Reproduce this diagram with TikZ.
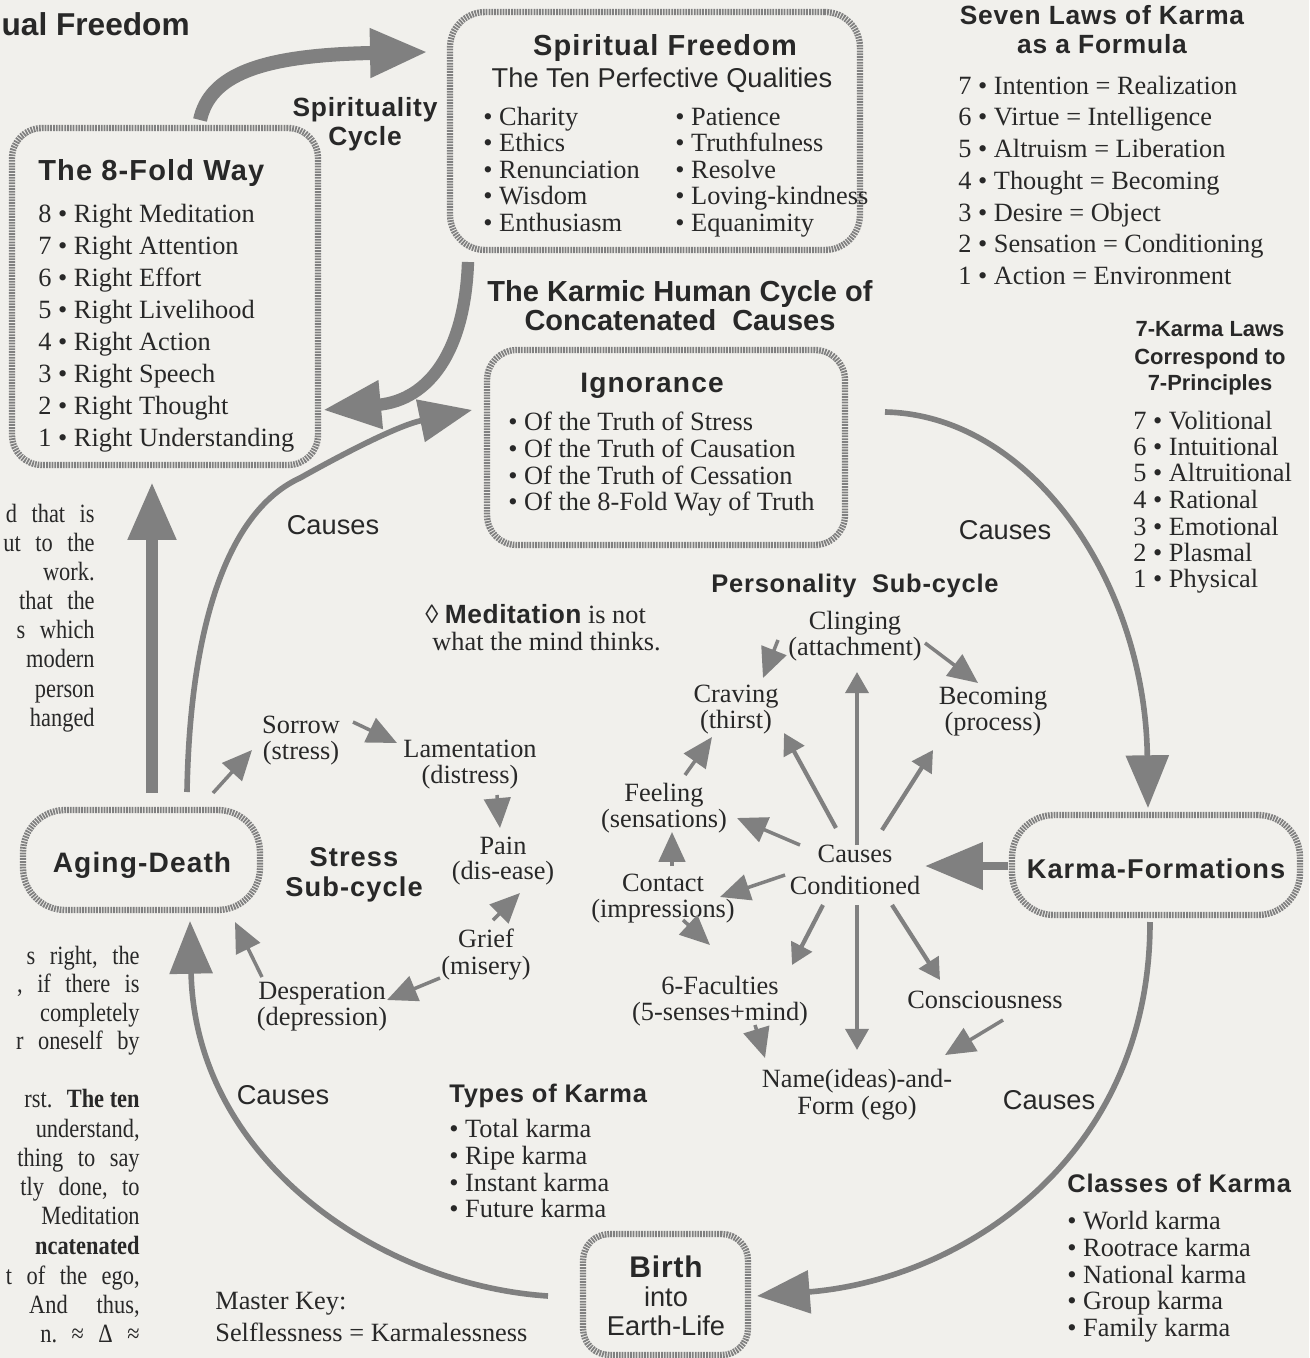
\documentclass[tikz,border=0pt]{standalone}
\usepackage{fontspec}
\setmainfont{Liberation Serif}
\setsansfont{Liberation Sans}
\newfontfamily\hd{Liberation Sans}[LetterSpace=3]
\newfontfamily\hdw{Liberation Sans}[LetterSpace=4]
\newfontfamily\colfont{Liberation Serif}[FakeStretch=0.85]
\usetikzlibrary{arrows.meta}
\definecolor{paper}{RGB}{241,240,236}
\definecolor{ink}{RGB}{40,40,40}
\definecolor{tone}{RGB}{128,128,128}
\newcommand{\ws}{\hspace{0.55em}}
\tikzset{
 tx/.style={font=\fontsize{15}{17}\selectfont, text=ink, inner sep=0pt, anchor=base},
 txl/.style={tx, anchor=base west},
 col/.style={font=\colfont\fontsize{15}{18}\selectfont, text=ink, inner sep=0pt, anchor=base east},
 hdg/.style={font=\hd\bfseries\fontsize{15}{18}\selectfont, text=ink, inner sep=0pt, anchor=base},
 hdgw/.style={font=\hdw\bfseries\fontsize{15.5}{18}\selectfont, text=ink, inner sep=0pt, anchor=base},
 hdgl/.style={hdg, anchor=base west},
 sns/.style={font=\sffamily\fontsize{15.5}{18}\selectfont, text=ink, inner sep=0pt, anchor=base},
 framebox/.style={draw=tone, line width=3.6pt, dash pattern=on 1pt off 0.6pt, rounded corners=#1, inner sep=0pt},
 framebox/.default=17pt,
 bandA/.style={draw=tone, line width=7pt, -{Triangle[length=33pt,width=26pt]}},
 bandB/.style={draw=tone, line width=3.2pt, -{Triangle[length=30pt,width=24pt]}},
 thinarr/.style={draw=tone, line width=2.4pt, -{Triangle[length=12pt,width=13pt]}},
 wedge/.style={draw=tone, line width=2pt, -{Triangle[length=17pt,width=15pt]}},
}
\begin{document}
\begin{tikzpicture}[x=0.02cm,y=-0.02cm]
\useasboundingbox (0,0) rectangle (1309,1358);
\fill[paper] (0,0) rectangle (1309,1358);

% ---------- boxes ----------
\node[framebox=17pt, minimum width=6.12cm, minimum height=6.74cm] (eight) at (165,296.5) {};
\node[framebox=20pt, minimum width=8.2cm, minimum height=4.76cm] (free) at (655,131) {};
\node[framebox=17pt, minimum width=7.16cm, minimum height=3.9cm] (ign) at (666,447.5) {};
\node[framebox=24pt, minimum width=4.74cm, minimum height=2cm] (aging) at (141.5,860) {};
\node[framebox=24pt, minimum width=5.76cm, minimum height=2cm] (karmaf) at (1156,865) {};
\node[framebox=15pt, minimum width=3.3cm, minimum height=2.42cm] (birth) at (665.5,1294.5) {};

% ---------- left column fragments ----------
\node[font=\sffamily\bfseries\fontsize{18}{21}\selectfont, text=ink, inner sep=0pt, anchor=base east] (frA) at (190,36) {ual Freedom};
\foreach \t/\y [count=\i] in {{d\ws that\ws is}/522, {ut\ws to\ws the}/551, {work.}/580, {that\ws the}/609, {s\ws which}/638, {modern}/667, {person}/697, {hanged}/726}
  \node[col] (fl\i) at (95,\y) {\t};
\foreach \t/\y [count=\i] in {{s\ws right,\ws the}/964, {,\ws if\ws there\ws is}/992, {completely}/1021, {r\ws oneself\ws by}/1049, {rst.\ws \textbf{The ten}}/1107, {understand,}/1137, {thing\ws to\ws say}/1166, {tly\ws done,\ws to}/1195, {Meditation}/1224, {\textbf{ncatenated}}/1254, {t\ws of\ws the\ws ego,}/1284, {And\ws\ws thus,}/1313, {n.\ws ≈\ws Δ\ws ≈}/1342}
  \node[col] (fb\i) at (140,\y) {\t};

% ---------- 8-fold way ----------
\node[hdgw, anchor=base west, font=\hdw\bfseries\fontsize{16.5}{19}\selectfont] (eightT) at (38,181) {The 8-Fold Way};
\foreach \t/\y [count=\i] in {{8 • Right Meditation}/223, {7 • Right Attention}/255, {6 • Right Effort}/287, {5 • Right Livelihood}/318, {4 • Right Action}/350, {3 • Right Speech}/382, {2 • Right Thought}/414, {1 • Right Understanding}/446}
  \node[txl] (ef\i) at (38,\y) {\t};

% ---------- spiritual freedom ----------
\node[hdgw, font=\hdw\bfseries\fontsize{16.5}{19}\selectfont] (freeT) at (665,56) {Spiritual Freedom};
\node[sns] (freeS) at (662,88) {The Ten Perfective Qualities};
\foreach \t/\y [count=\i] in {{• Charity}/126, {• Ethics}/152, {• Renunciation}/179, {• Wisdom}/205, {• Enthusiasm}/232}
  \node[txl] (ql\i) at (483,\y) {\t};
\foreach \t/\y [count=\i] in {{• Patience}/126, {• Truthfulness}/152, {• Resolve}/179, {• Loving-kindness}/205, {• Equanimity}/232}
  \node[txl] (qr\i) at (675,\y) {\t};

\node[hdg] (spc1) at (365,117) {Spirituality};
\node[hdg] (spc2) at (365,146) {Cycle};

% ---------- karmic heading + ignorance ----------
\node[font=\sffamily\bfseries\fontsize{16.5}{20}\selectfont, text=ink, inner sep=0pt, anchor=base] (kh1) at (680,302) {The Karmic Human Cycle of};
\node[font=\sffamily\bfseries\fontsize{16.5}{20}\selectfont, text=ink, inner sep=0pt, anchor=base] (kh2) at (680,331) {Concatenated\ \ Causes};
\node[hdgw, font=\hdw\bfseries\fontsize{16}{19}\selectfont] (ignT) at (652,392) {Ignorance};
\foreach \t/\y [count=\i] in {{• Of the Truth of Stress}/430, {• Of the Truth of Causation}/457, {• Of the Truth of Cessation}/484, {• Of the 8-Fold Way of Truth}/510}
  \node[txl] (ig\i) at (508,\y) {\t};

% ---------- seven laws ----------
\node[hdg] (sl1) at (1102,25) {Seven Laws of Karma};
\node[hdg] (sl2) at (1102,54) {as a Formula};
\foreach \t/\y [count=\i] in {{7 • Intention = Realization}/95, {6 • Virtue = Intelligence}/126, {5 • Altruism = Liberation}/158, {4 • Thought = Becoming}/190, {3 • Desire = Object}/222, {2 • Sensation = Conditioning}/253, {1 • Action = Environment}/285}
  \node[txl] (lw\i) at (958,\y) {\t};
\foreach \t/\y [count=\i] in {{7-Karma Laws}/337, {Correspond to}/364, {7-Principles}/390}
  \node[font=\sffamily\bfseries\fontsize{12.5}{15}\selectfont, text=ink, inner sep=0pt, anchor=base] (cp\i) at (1210,\y) {\t};
\foreach \t/\y [count=\i] in {{7 • Volitional}/429, {6 • Intuitional}/455, {5 • Altruitional}/481, {4 • Rational}/508, {3 • Emotional}/535, {2 • Plasmal}/561, {1 • Physical}/587}
  \node[txl] (pr\i) at (1133,\y) {\t};

% ---------- causes labels ----------
\node[sns] (cz1) at (333,534) {Causes};
\node[sns] (cz2) at (1005,539) {Causes};
\node[sns] (cz3) at (283,1104) {Causes};
\node[sns] (cz4) at (1049,1109) {Causes};

% ---------- personality sub-cycle ----------
\node[hdg, font=\hd\bfseries\fontsize{14.5}{18}\selectfont] (pers) at (855,592) {Personality\ \ Sub-cycle};
\node[txl] (med1) at (425,623) {◊ {\sffamily\bfseries\addfontfeature{LetterSpace=2}Meditation} is not};
\node[txl] (med2) at (432,650) {what the mind thinks.};

\node[tx] (cling) at (855,629) {Clinging};
\node[tx] (cling2) at (855,655) {(attachment)};
\node[tx] (crav) at (736,702) {Craving};
\node[tx] (crav2) at (736,728) {(thirst)};
\node[tx] (becom) at (993,704) {Becoming};
\node[tx] (becom2) at (993,730) {(process)};
\node[tx] (feel) at (664,801) {Feeling};
\node[tx] (feel2) at (664,827) {(sensations)};
\node[tx] (cc1) at (855,862) {Causes};
\node[tx] (cc2) at (855,894) {Conditioned};
\node[tx] (cont) at (663,891) {Contact};
\node[tx] (cont2) at (663,917) {(impressions)};
\node[tx] (fac) at (720,994) {6-Faculties};
\node[tx] (fac2) at (720,1020) {(5-senses+mind)};
\node[tx] (consc) at (985,1008) {Consciousness};
\node[tx] (name1) at (857,1087) {Name(ideas)-and-};
\node[tx] (name2) at (857,1114) {Form (ego)};

% ---------- stress sub-cycle ----------
\node[tx] (sor) at (301,733) {Sorrow};
\node[tx] (sor2) at (301,759) {(stress)};
\node[tx] (lam) at (470,757) {Lamentation};
\node[tx] (lam2) at (470,783) {(distress)};
\node[tx] (pain) at (503,854) {Pain};
\node[tx] (pain2) at (503,879) {(dis-ease)};
\node[tx] (grief) at (486,947) {Grief};
\node[tx] (grief2) at (486,974) {(misery)};
\node[tx] (desp) at (322,999) {Desperation};
\node[tx] (desp2) at (322,1025) {(depression)};
\node[hdgw] (st1) at (354,866) {Stress};
\node[hdgw] (st2) at (354,896) {Sub-cycle};

% ---------- box labels ----------
\node[hdgw, font=\hdw\bfseries\fontsize{16}{19}\selectfont] (agingT) at (142,872) {Aging-Death};
\node[hdgw] (karmafT) at (1156,878) {Karma-Formations};
\node[hdg, font=\hd\bfseries\fontsize{17}{20}\selectfont] (birthT) at (666,1277) {Birth};
\node[sns] (birth2) at (666,1306) {into};
\node[sns] (birth3) at (666,1335) {Earth-Life};

% ---------- types / classes ----------
\node[hdgl, font=\hd\bfseries\fontsize{14.5}{18}\selectfont] (typT) at (449,1102) {Types of Karma};
\foreach \t/\y [count=\i] in {{• Total karma}/1137, {• Ripe karma}/1164, {• Instant karma}/1191, {• Future karma}/1217}
  \node[txl] (ty\i) at (449,\y) {\t};
\node[hdgl, font=\hd\bfseries\fontsize{14.5}{18}\selectfont] (clsT) at (1067,1192) {Classes of Karma};
\foreach \t/\y [count=\i] in {{• World karma}/1229, {• Rootrace karma}/1256, {• National karma}/1283, {• Group karma}/1309, {• Family karma}/1336}
  \node[txl] (cl\i) at (1067,\y) {\t};
\node[txl] (mk1) at (215,1309) {Master Key:};
\node[txl] (mk2) at (215,1341) {Selflessness = Karmalessness};

% ---------- big arrows ----------
\path (200,120) coordinate (a1) (428,52) coordinate (a2)
      (468,262) coordinate (b1) (323,410) coordinate (b2)
      (187,792) coordinate (c1) (300,478) coordinate (cm) (472,410) coordinate (c2)
      (152,793) coordinate (d1) (152,482) coordinate (d2)
      (548,1296) coordinate (k1) (190,921) coordinate (k2)
      (1150,922) coordinate (l1) (757,1296) coordinate (l2)
      (885,412) coordinate (m1) (1148,808) coordinate (m2)
      (1008,866) coordinate (n1) (925,866) coordinate (n2);
\draw[bandA, line width=8pt] (a1) .. controls (210,75) and (260,55) .. (a2);
\draw[bandA] (b1) .. controls (465,350) and (430,400) .. (b2);
\draw[bandB] (c1) .. controls (190,620) and (230,510) .. (cm) .. controls (350,450) and (400,425) .. (c2);
\draw[bandA] (d1) -- (d2);
\draw[bandB] (k1) .. controls (380,1285) and (195,1160) .. (k2);
\draw[bandB] (l1) .. controls (1150,1160) and (960,1280) .. (l2);
\draw[bandB] (m1) .. controls (1030,415) and (1145,580) .. (m2);
\draw[bandA, line width=5pt] (n1) -- (n2);

% ---------- stress arrows ----------
\path (213,793) coordinate (e1) (252,750) coordinate (e2)
      (353,722) coordinate (f1) (397,743) coordinate (f2)
      (497,795) coordinate (g1) (500,828) coordinate (g2)
      (493,920) coordinate (h1) (520,893) coordinate (h2)
      (440,978) coordinate (i1) (387,1000) coordinate (i2)
      (262,977) coordinate (j1) (235,922) coordinate (j2);
\foreach \p in {e,f,g,h,i,j} \draw[wedge] (\p1) -- (\p2);

% ---------- personality arrows ----------
\path (857,845) coordinate (p1a) (857,672) coordinate (p1b)
      (836,828) coordinate (p2a) (784,733) coordinate (p2b)
      (882,830) coordinate (p3a) (933,750) coordinate (p3b)
      (857,905) coordinate (p12a) (857,1050) coordinate (p12b)
      (823,905) coordinate (p11a) (792,965) coordinate (p11b)
      (892,905) coordinate (p13a) (940,980) coordinate (p13b);
\foreach \p in {p1,p2,p3,p11,p12,p13} \draw[thinarr] (\p a) -- (\p b);
\path (925,643) coordinate (p4a) (978,683) coordinate (p4b)
      (778,640) coordinate (p5a) (763,678) coordinate (p5b)
      (685,775) coordinate (p6a) (712,737) coordinate (p6b)
      (800,845) coordinate (p7a) (737,818) coordinate (p7b)
      (672,866) coordinate (p8a) (672,832) coordinate (p8b)
      (785,875) coordinate (p9a) (720,897) coordinate (p9b)
      (683,920) coordinate (p10a) (710,945) coordinate (p10b)
      (755,1025) coordinate (p14a) (765,1058) coordinate (p14b)
      (1003,1020) coordinate (p15a) (945,1055) coordinate (p15b);
\foreach \p in {p4,p5,p6,p7,p8,p9,p10,p14,p15} \draw[wedge] (\p a) -- (\p b);
\end{tikzpicture}
\end{document}
